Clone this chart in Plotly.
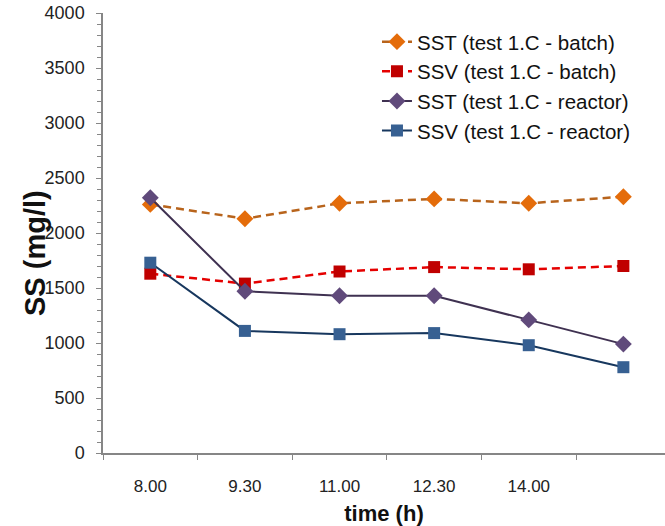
import plotly.graph_objects as go

time_labels = ["8.00", "9.30", "11.00", "12.30", "14.00", " "]
sst_batch = [2260, 2130, 2270, 2310, 2270, 2330]
ssv_batch = [1630, 1540, 1650, 1690, 1670, 1700]
sst_reactor = [2320, 1470, 1430, 1430, 1210, 990]
ssv_reactor = [1730, 1110, 1080, 1090, 980, 780]

series = [
    ("SST (test 1.C - batch)", sst_batch, "#B8641C", "#E46C0A", "diamond", 13, "8px,5px", 2.5),
    ("SSV (test 1.C - batch)", ssv_batch, "#E50000", "#C00000", "square", 12, "8px,5px", 2.5),
    ("SST (test 1.C - reactor)", sst_reactor, "#3F3151", "#604A7B", "diamond", 13, "solid", 2),
    ("SSV (test 1.C - reactor)", ssv_reactor, "#17375E", "#376092", "square", 12, "solid", 2),
]

fig = go.Figure()
for name, vals, lc, mc, sym, ms, dash, lw in series:
    fig.add_trace(go.Scatter(
        x=time_labels, y=vals, name=name, mode="lines+markers",
        line=dict(color=lc, width=lw, dash=dash),
        marker=dict(symbol=sym, size=ms, color=mc, line=dict(width=0)),
    ))

axis_col = "#868686"
fig.update_layout(
    width=665, height=526,
    margin=dict(l=103, r=0, t=13, b=73, autoexpand=False),
    paper_bgcolor="white", plot_bgcolor="white",
    font=dict(family="Liberation Sans, Arial, sans-serif", size=15, color="#222222"),
    showlegend=True,
    legend=dict(
        x=0.4875, y=0.980, xanchor="left", yanchor="top",
        font=dict(size=20.5, color="#111111"),
        bgcolor="rgba(0,0,0,0)", tracegroupgap=0, itemwidth=30,
    ),
    xaxis=dict(
        type="category", range=[-0.5, 5.44], automargin=False,
        showline=True, linecolor=axis_col, linewidth=1.5,
        ticks="outside", ticklen=5, tickcolor=axis_col, tickson="boundaries",
        showgrid=False, zeroline=False,
        tickfont=dict(size=17), ticklabelstandoff=17,
        title=dict(text="<b>time (h)</b>", font=dict(size=22, color="#111111"), standoff=11),
    ),
    yaxis=dict(
        range=[0, 4000], dtick=500, automargin=False,
        showline=True, linecolor=axis_col, linewidth=1.5,
        ticks="outside", ticklen=5, tickcolor=axis_col,
        minor=dict(dtick=100, ticks="outside", ticklen=4, tickcolor=axis_col),
        showgrid=False, zeroline=False,
        tickfont=dict(size=18), ticklabelstandoff=8, ticklabeloverflow="allow",
    ),
    annotations=[dict(
        text="<b>SS (mg/l)</b>", xref="paper", yref="paper",
        x=-0.121, y=0.4545, xanchor="center", yanchor="middle",
        textangle=-90, showarrow=False, font=dict(size=29, color="#111111"),
    )],
)

fig.write_html(
    "out.html",
    config={"displayModeBar": False},
    post_script="document.body.style.margin='0';document.body.style.overflow='hidden';",
)
